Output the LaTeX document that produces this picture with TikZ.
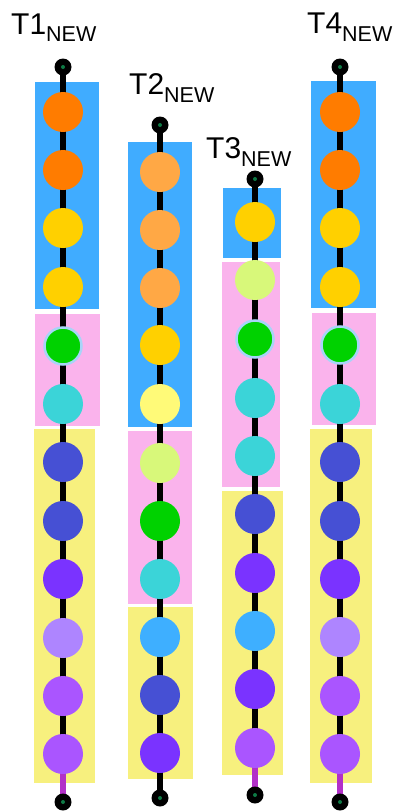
\documentclass[tikz,border=0pt]{standalone}
\usepackage{fontspec}
\setmainfont{Liberation Sans}
\definecolor{rblue}{HTML}{40ACFF}
\definecolor{rpink}{HTML}{FAB3EC}
\definecolor{ryel}{HTML}{F7F07E}
\definecolor{cor}{HTML}{FF7C00}
\definecolor{clor}{HTML}{FFA845}
\definecolor{cyel}{HTML}{FFD000}
\definecolor{clyel}{HTML}{FFFA78}
\definecolor{clgrn}{HTML}{D8F87A}
\definecolor{cgrn}{HTML}{00D200}
\definecolor{cring}{HTML}{A8D4F8}
\definecolor{ccyan}{HTML}{3BD4D8}
\definecolor{cind}{HTML}{4650D4}
\definecolor{cvio}{HTML}{7A33FF}
\definecolor{clav}{HTML}{AE85FF}
\definecolor{cpur}{HTML}{AA55FF}
\definecolor{clblue}{HTML}{3EAFFF}
\definecolor{stempur}{HTML}{B230C8}
\definecolor{pindot}{HTML}{0E7A45}
\tikzset{
  bead/.style={circle, minimum size=40pt, inner sep=0pt, fill=#1},
  gbead/.style={circle, minimum size=37pt, inner sep=0pt, fill=cgrn, draw=cring, line width=2.5pt},
  pin/.style={circle, minimum size=17pt, inner sep=0pt, fill=black},
  stem/.style={line width=6pt, black},
  pstem/.style={line width=6pt, stempur},
  lbl/.style={anchor=base west, inner sep=0pt},
}
\newcommand{\tlab}[1]{{\fontsize{30}{30}\selectfont T#1}{\fontsize{21.5}{21.5}\selectfont\raisebox{-8pt}{NEW}}}
\begin{document}
\begin{tikzpicture}[x=1pt,y=-1pt]
\useasboundingbox (0,0) rectangle (395,811);
% labels
\node[lbl] (l1) at (11,34) {\tlab{1}};
\node[lbl] (l2) at (129,94) {\tlab{2}};
\node[lbl] (l3) at (206,158) {\tlab{3}};
\node[lbl] (l4) at (307,33) {\tlab{4}};
% rectangles
\fill[rblue] (35,82) rectangle (99,309);
\fill[rpink] (35,314) rectangle (100,426);
\fill[ryel] (34,429) rectangle (95,783);
\fill[rblue] (128,142) rectangle (192,427);
\fill[rpink] (128,431) rectangle (192,604);
\fill[ryel] (128,607) rectangle (193,779);
\fill[rblue] (223,188) rectangle (281,258);
\fill[rpink] (222,262) rectangle (280,487);
\fill[ryel] (222,491) rectangle (283,775);
\fill[rblue] (311,81) rectangle (376,308);
\fill[rpink] (312,313) rectangle (376,425);
\fill[ryel] (310,429) rectangle (372,783);
% pins
\coordinate (top1) at (63,67); \coordinate (bot1) at (63,802);
\coordinate (top2) at (160,125); \coordinate (bot2) at (160,798);
\coordinate (top3) at (255,179); \coordinate (bot3) at (255,795);
\coordinate (top4) at (340,67); \coordinate (bot4) at (340,802);
% bead positions
\foreach \y [count=\i] in {112,170,228,287,346,404,462,521,579,638,696,754}
  \coordinate (ka\i) at (63,\y);
\foreach \y [count=\i] in {172,230,288,345,404,463,521,579,637,695,753}
  \coordinate (kb\i) at (160,\y);
\foreach \y [count=\i] in {222,280,339,398,456,514,573,631,689,748}
  \coordinate (kc\i) at (255,\y);
\foreach \y [count=\i] in {112,170,228,287,345,404,462,521,579,637,696,754}
  \coordinate (kd\i) at (340,\y);
% stems
\draw[stem] (top1) -- (ka12);
\draw[pstem] (ka12) -- (bot1);
\draw[stem] (top2) -- (bot2);
\draw[stem] (top3) -- (kc10);
\draw[pstem] (kc10) -- (bot3);
\draw[stem] (top4) -- (kd12);
\draw[pstem] (kd12) -- (bot4);
% beads
\foreach \c [count=\i] in {cor,cor,cyel,cyel,cgrn,ccyan,cind,cind,cvio,clav,cpur,cpur}
  {\ifnum\i=5 \node[gbead] (na\i) at (ka\i) {};\else\node[bead=\c] (na\i) at (ka\i) {};\fi}
\foreach \c [count=\i] in {clor,clor,clor,cyel,clyel,clgrn,cgrn,ccyan,clblue,cind,cvio}
  \node[bead=\c] (nb\i) at (kb\i) {};
\foreach \c [count=\i] in {cyel,clgrn,cgrn,ccyan,ccyan,cind,cvio,clblue,cvio,cpur}
  {\ifnum\i=3 \node[gbead] (nc\i) at (kc\i) {};\else\node[bead=\c] (nc\i) at (kc\i) {};\fi}
\foreach \c [count=\i] in {cor,cor,cyel,cyel,cgrn,ccyan,cind,cind,cvio,clav,cpur,cpur}
  {\ifnum\i=5 \node[gbead] (nd\i) at (kd\i) {};\else\node[bead=\c] (nd\i) at (kd\i) {};\fi}
% pin heads
\foreach \p in {top1,bot1,top2,bot2,top3,bot3,top4,bot4}
  {\node[pin] (h\p) at (\p) {}; \fill[pindot] (\p) circle (2pt);}
\end{tikzpicture}
\end{document}
